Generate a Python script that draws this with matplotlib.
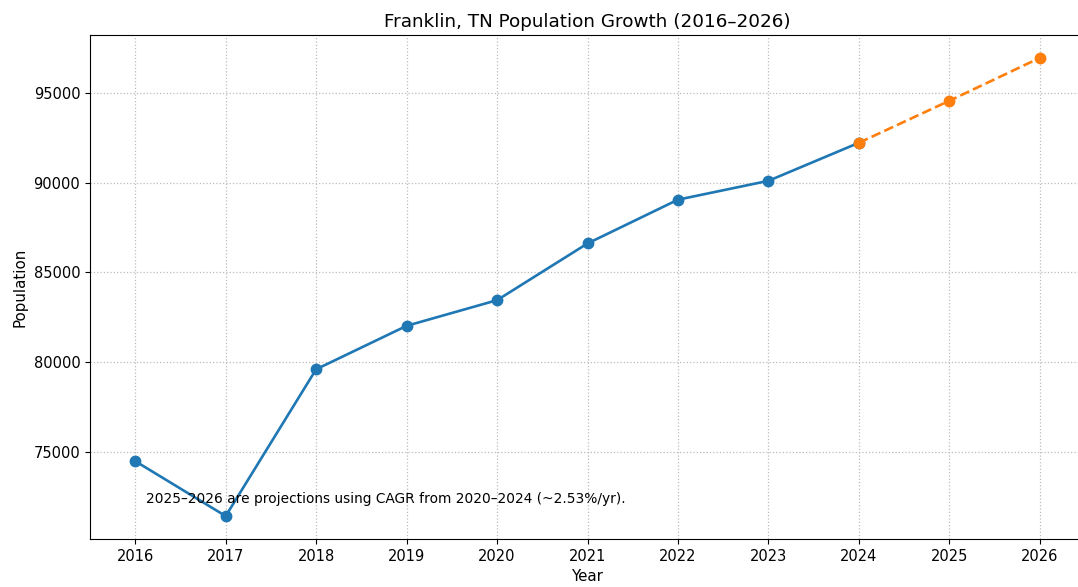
import matplotlib
matplotlib.use("Agg")
import matplotlib.pyplot as plt

years_actual = [2016, 2017, 2018, 2019, 2020, 2021, 2022, 2023, 2024]
pop_actual = [74480, 71420, 79600, 82020, 83450, 86610, 89050, 90100, 92220]

years_proj = [2024, 2025, 2026]
pop_proj = [92220, 94560, 96950]

fig = plt.figure(figsize=(10.78, 5.87), dpi=100)
ax = fig.add_axes([0.0835, 0.0818, 0.923, 0.8586])

ax.plot(years_actual, pop_actual, marker='o', color='tab:blue', linewidth=1.9, markersize=7.5)
ax.plot(years_proj, pop_proj, marker='o', linestyle='--', color='tab:orange', linewidth=1.9, markersize=7.5)

ax.set_title("Franklin, TN Population Growth (2016\u20132026)", fontsize=13.2)
ax.set_xlabel("Year", fontsize=10.8)
ax.set_ylabel("Population", fontsize=10.8)
ax.set_xticks(years_actual + years_proj[1:])
ax.tick_params(labelsize=10.5)
ax.grid(True, linestyle=':', color='#bcbcbc', linewidth=0.9)

ax.text(0.056, 0.079, "2025\u20132026 are projections using CAGR from 2020\u20132024 (~2.53%/yr).",
        transform=ax.transAxes, fontsize=9.9, va='center')

fig.savefig("out.png", dpi=100)
